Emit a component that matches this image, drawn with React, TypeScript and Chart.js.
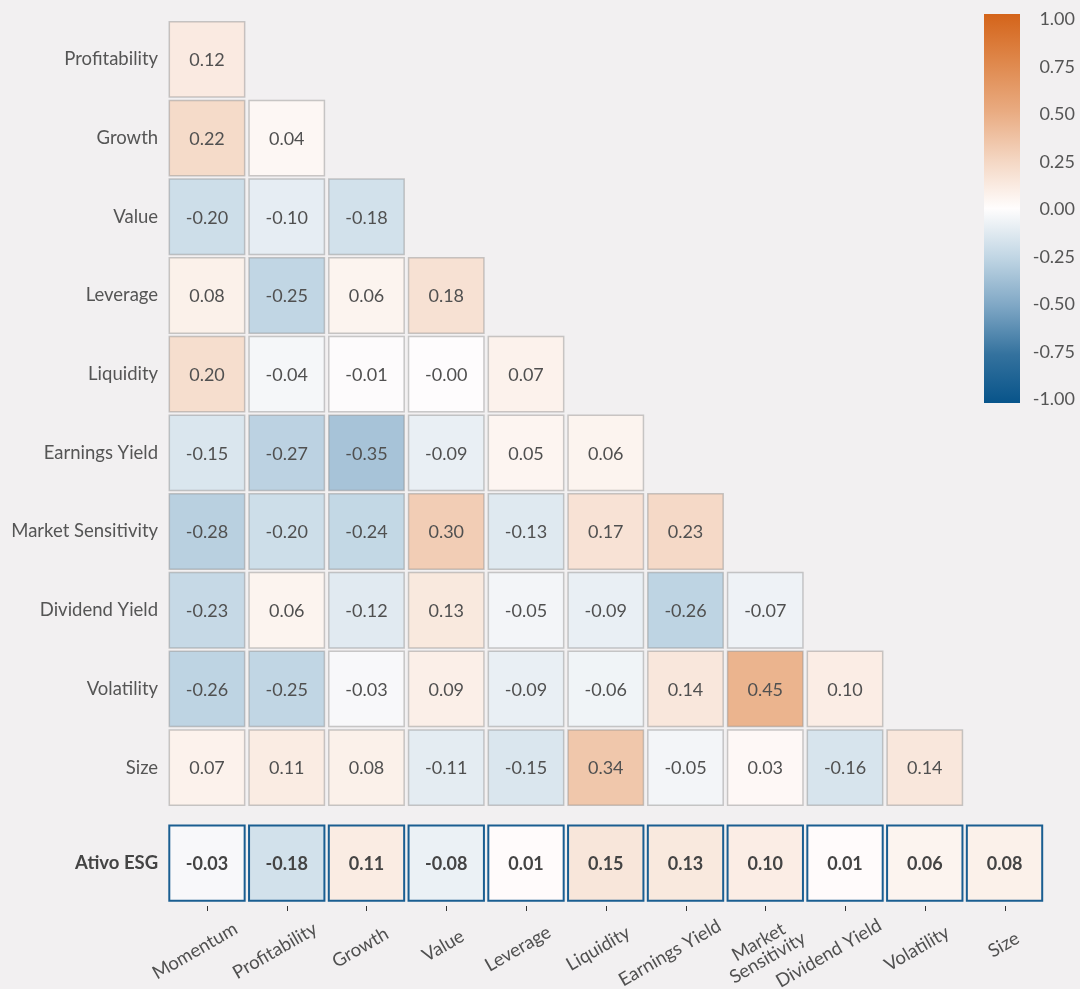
import React, { useEffect, useRef } from "react";
import { Chart, registerables } from "chart.js";

Chart.register(...registerables);

// ---------- data ----------
const columnLabels = [
  "Momentum",
  "Profitability",
  "Growth",
  "Value",
  "Leverage",
  "Liquidity",
  "Earnings Yield",
  "Market\nSensitivity",
  "Dividend Yield",
  "Volatility",
  "Size",
];
const rowLabels = [
  "Profitability",
  "Growth",
  "Value",
  "Leverage",
  "Liquidity",
  "Earnings Yield",
  "Market Sensitivity",
  "Dividend Yield",
  "Volatility",
  "Size",
];
const esgLabel = "Ativo ESG";

const corrProfitability = [0.12];
const corrGrowth = [0.22, 0.04];
const corrValue = [-0.2, -0.1, -0.18];
const corrLeverage = [0.08, -0.25, 0.06, 0.18];
const corrLiquidity = [0.2, -0.04, -0.01, -0.004, 0.07];
const corrEarningsYield = [-0.15, -0.27, -0.35, -0.09, 0.05, 0.06];
const corrMarketSensitivity = [-0.28, -0.2, -0.24, 0.3, -0.13, 0.17, 0.23];
const corrDividendYield = [-0.23, 0.06, -0.12, 0.13, -0.05, -0.09, -0.26, -0.07];
const corrVolatility = [-0.26, -0.25, -0.03, 0.09, -0.09, -0.06, 0.14, 0.45, 0.1];
const corrSize = [0.07, 0.11, 0.08, -0.11, -0.15, 0.34, -0.05, 0.03, -0.16, 0.14];
const esgCorr = [-0.03, -0.18, 0.11, -0.08, 0.01, 0.15, 0.13, 0.1, 0.01, 0.06, 0.08];

const colorbarTicks = [1, 0.75, 0.5, 0.25, 0, -0.25, -0.5, -0.75, -1];

// ---------- styling ----------
const FONT = "Lato, 'Open Sans', 'DejaVu Sans', sans-serif";
const BG = "#f2f0f1";
const TEXT = "#505050";
const ESG_ROW = 10.215; // ESG row is set apart below the triangle
const CELL_FRAC = 0.945;

const cmapStops: [number, number[]][] = [
  [-1.0, [8, 84, 138]],
  [-0.75, [52, 114, 158]],
  [-0.5, [127, 167, 197]],
  [-0.25, [193, 214, 228]],
  [0.0, [255, 253, 253]],
  [0.25, [244, 214, 194]],
  [0.5, [233, 171, 129]],
  [0.75, [223, 136, 76]],
  [1.0, [212, 100, 26]],
];

function cmap(v: number): string {
  const x = Math.max(-1, Math.min(1, v));
  for (let i = 0; i < cmapStops.length - 1; i++) {
    const [a, ca] = cmapStops[i];
    const [b, cb] = cmapStops[i + 1];
    if (x >= a && x <= b) {
      const t = (x - a) / (b - a);
      const c = ca.map((k, j) => Math.round(k + (cb[j] - k) * t));
      return `rgb(${c[0]},${c[1]},${c[2]})`;
    }
  }
  return "rgb(255,255,255)";
}

const triangle = [
  corrProfitability,
  corrGrowth,
  corrValue,
  corrLeverage,
  corrLiquidity,
  corrEarningsYield,
  corrMarketSensitivity,
  corrDividendYield,
  corrVolatility,
  corrSize,
];

const allRowLabels = [...rowLabels, esgLabel];

const cellRadius = (ctx: any) => {
  const xs = ctx.chart.scales.x;
  if (!xs) return 50;
  const side = Math.abs(xs.getPixelForValue(CELL_FRAC / 2) - xs.getPixelForValue(-CELL_FRAC / 2));
  return side / Math.SQRT2;
};

const cellTextPlugin = {
  id: "cellText",
  afterDatasetsDraw(chart: any) {
    const ctx = chart.ctx;
    ctx.save();
    ctx.textAlign = "center";
    ctx.textBaseline = "middle";
    chart.data.datasets.forEach((ds: any, di: number) => {
      const meta = chart.getDatasetMeta(di);
      ctx.font = di === 1 ? `bold 18px ${FONT}` : `18px ${FONT}`;
      ctx.fillStyle = di === 1 ? "#444" : TEXT;
      meta.data.forEach((el: any, i: number) => {
        const v = ds.data[i].v as number;
        ctx.fillText(v.toFixed(2), el.x, el.y + 1);
      });
    });
    ctx.restore();
  },
};

const xLabelPlugin = {
  id: "xLabels",
  afterDraw(chart: any) {
    const ctx = chart.ctx;
    const xs = chart.scales.x;
    const bottom = chart.chartArea.bottom;
    ctx.save();
    // tick marks
    ctx.strokeStyle = "#333";
    ctx.lineWidth = 1;
    columnLabels.forEach((_, i) => {
      const x = Math.round(xs.getPixelForValue(i)) + 0.5;
      ctx.beginPath();
      ctx.moveTo(x, bottom + 3.5);
      ctx.lineTo(x, bottom + 8.5);
      ctx.stroke();
    });
    // rotated labels
    ctx.font = `18.5px ${FONT}`;
    ctx.fillStyle = TEXT;
    ctx.textAlign = "center";
    ctx.textBaseline = "middle";
    const lh = 18;
    columnLabels.forEach((lab, i) => {
      const lines = lab.split("\n");
      const w = Math.max(...lines.map((l) => ctx.measureText(l).width));
      const tx = xs.getPixelForValue(i);
      const cx = tx + 5 - 0.18 * w + (lines.length > 1 ? 8 : 0);
      const cy = bottom + 39 + 0.1 * w;
      ctx.save();
      ctx.translate(cx, cy);
      ctx.rotate(-Math.PI / 6);
      lines.forEach((l, k) => {
        ctx.fillText(l, 0, (k - (lines.length - 1) / 2) * lh);
      });
      ctx.restore();
    });
    ctx.restore();
  },
};

const colorbarPlugin = {
  id: "colorbar",
  afterDraw(chart: any) {
    const ctx = chart.ctx;
    const left = 984;
    const width = 36;
    const top = 14;
    const bottom = 403;
    ctx.save();
    const g = ctx.createLinearGradient(0, bottom, 0, top);
    cmapStops.forEach(([v, c]) => g.addColorStop((v + 1) / 2, `rgb(${c[0]},${c[1]},${c[2]})`));
    ctx.fillStyle = g;
    ctx.fillRect(left, top, width, bottom - top);
    ctx.font = `18px ${FONT}`;
    ctx.fillStyle = "#555";
    ctx.textAlign = "right";
    ctx.textBaseline = "middle";
    const mid = (top + bottom) / 2;
    colorbarTicks.forEach((v) => {
      ctx.fillText(v.toFixed(2), 1075, mid - v * 190 + 1);
    });
    ctx.restore();
  },
};

export default function App() {
  const ref = useRef<HTMLCanvasElement | null>(null);

  useEffect(() => {
    if (!ref.current) return;
    const cells: { x: number; y: number; v: number }[] = [];
    triangle.forEach((row, r) => row.forEach((v, c) => cells.push({ x: c, y: r, v })));
    const esgCells = esgCorr.map((v, c) => ({ x: c, y: ESG_ROW, v }));

    const bg = (ctx: any) => (ctx.raw ? cmap(ctx.raw.v) : "#fff");
    const cellBorder = "rgba(140,140,140,0.45)";

    const chart = new Chart(ref.current, {
      type: "scatter",
      data: {
        datasets: [
          {
            data: cells,
            pointStyle: "rect",
            pointRadius: cellRadius,
            pointHoverRadius: cellRadius,
            backgroundColor: bg,
            hoverBackgroundColor: bg,
            borderColor: cellBorder,
            hoverBorderColor: cellBorder,
            borderWidth: 1.5,
            hoverBorderWidth: 1.5,
            clip: false,
          } as any,
          {
            data: esgCells,
            pointStyle: "rect",
            pointRadius: cellRadius,
            pointHoverRadius: cellRadius,
            backgroundColor: bg,
            hoverBackgroundColor: bg,
            borderColor: "#1a5e91",
            hoverBorderColor: "#1a5e91",
            borderWidth: 2,
            hoverBorderWidth: 2,
            clip: false,
          } as any,
        ],
      },
      options: {
        responsive: false,
        animation: false,
        events: [],
        layout: { padding: { top: 16.5, left: 0, right: 35.6, bottom: 0 } },
        plugins: {
          legend: { display: false },
          tooltip: { enabled: false },
        },
        scales: {
          x: {
            type: "linear",
            min: -0.5,
            max: columnLabels.length - 0.5,
            grid: { display: false, drawTicks: false },
            border: { display: false },
            ticks: { display: false },
            afterFit: (s: any) => {
              s.height = 86.5;
            },
          },
          y: {
            type: "linear",
            reverse: true,
            min: -0.5,
            max: ESG_ROW + 0.5,
            grid: { display: false, drawTicks: false },
            border: { display: false },
            afterBuildTicks: (s: any) => {
              s.ticks = [...rowLabels.map((_, i) => ({ value: i })), { value: ESG_ROW }];
            },
            ticks: {
              autoSkip: false,
              padding: 9,
              color: (c: any) => (c.index === rowLabels.length ? "#444" : "#555"),
              font: (c: any) =>
                c.index === rowLabels.length
                  ? { family: FONT, size: 18.5, weight: "bold" }
                  : { family: FONT, size: 18.5 },
              callback: (_v: any, idx: number) => allRowLabels[idx],
            },
            afterFit: (s: any) => {
              s.width = 167.1;
            },
          },
        },
      } as any,
      plugins: [cellTextPlugin, xLabelPlugin, colorbarPlugin],
    });
    return () => chart.destroy();
  }, []);

  return (
    <div style={{ position: "fixed", left: 0, top: 0, width: 1080, height: 989, background: BG }}>
      <canvas ref={ref} width={1080} height={989} style={{ display: "block" }} />
    </div>
  );
}
